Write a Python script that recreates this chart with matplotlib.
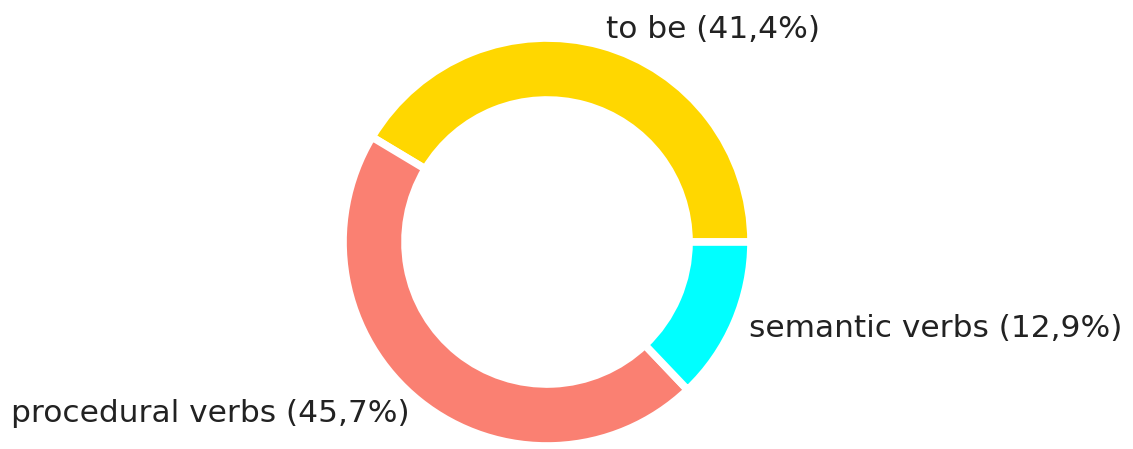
import matplotlib.pyplot as plt

labels = ['to be (41,4%)', 'procedural verbs (45,7%)', 'semantic verbs (12,9%)']
shares = [41.4, 45.7, 12.9]
colors = ['gold', 'salmon', 'cyan']

fig = plt.figure(figsize=(11.33, 4.49), dpi=100)
ax = fig.add_axes([0, 0, 1, 1])

ax.pie(shares, labels=labels, colors=colors, startangle=0, radius=1.02,
       labeldistance=1.08,
       wedgeprops=dict(width=0.31, edgecolor='white', linewidth=5.5),
       textprops=dict(fontsize=22.5, color='#222222'))

# one data unit = 200 px, ring centred at (547, 242) px from the top-left
ax.set_xlim(-547 / 200, (1133 - 547) / 200)
ax.set_ylim(-(449 - 242) / 200, 242 / 200)
ax.set_aspect('equal')
ax.axis('off')

fig.savefig('out.png', dpi=100)
